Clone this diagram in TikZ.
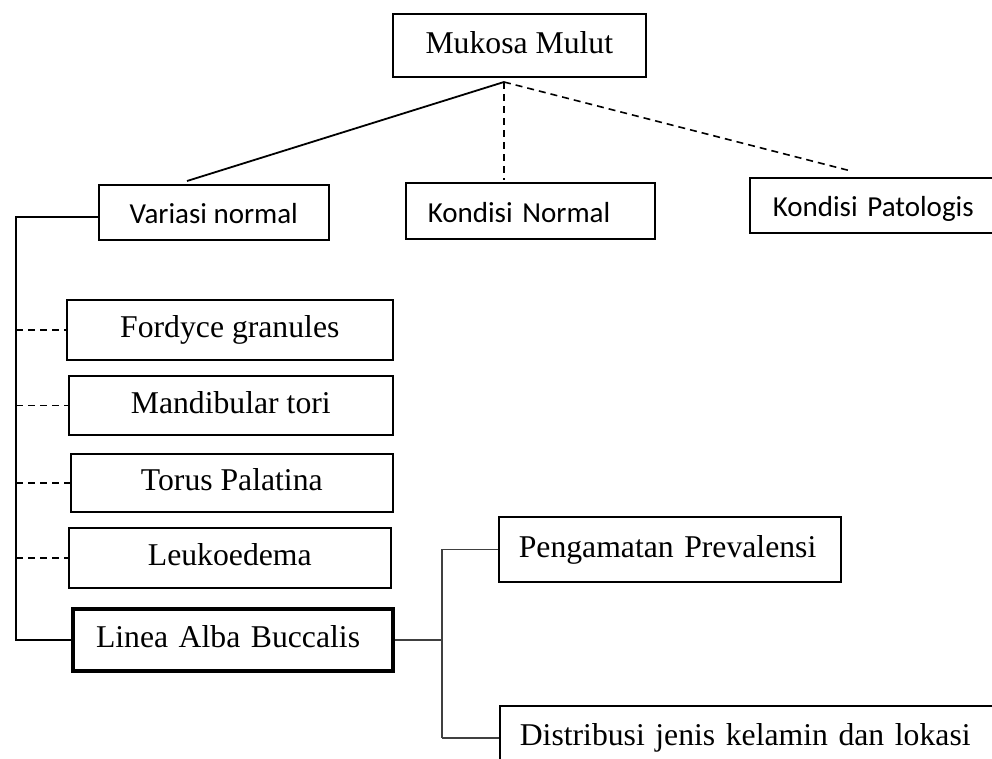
\documentclass[tikz,border=0pt]{standalone}
\usepackage{fontspec}
\setmainfont{Liberation Serif}
\newfontfamily\calibri{Carlito}
\usetikzlibrary{positioning, calc}
\tikzset{
  block/.style={rectangle, draw, line width=1.6pt, inner sep=0pt, anchor=north west,
                text height=22pt, text depth=6.3pt,
                font=\fontsize{31.7}{38}\selectfont},
  sblock/.style={block, text height=29pt, text depth=5.8pt,
                 font=\calibri\fontsize{29}{35}\selectfont},
  line/.style={line width=1.8pt},
  fline/.style={line width=1.4pt, black!75},
  stub/.style={line width=1.6pt, dash pattern=on 7pt off 5pt}
}

\begin{document}
\begin{tikzpicture}[x=1pt, y=-1pt]
    \clip (0,0) rectangle (992,758);

    \node[block, minimum width=253pt, minimum height=63pt] (mukosa) at (392,13) {Mukosa Mulut};

    \node[sblock, minimum width=230pt, minimum height=55pt] (variasi) at (98,184) {Variasi normal};
    \node[sblock, inner xsep=22pt, text width=205pt, align=left, minimum height=56pt] (normal) at (405,182) {Kondisi Normal};
    \node[sblock, inner xsep=23pt, text width=215pt, align=left, minimum height=55pt] (patologis) at (749,177) {Kondisi Patologis};

    \node[block, minimum width=326pt, minimum height=60pt] (fordyce) at (66,299) {Fordyce granules};
    \node[block, minimum width=324pt, minimum height=59pt] (tori) at (68,375) {Mandibular tori};
    \node[block, minimum width=322pt, minimum height=58pt] (torus) at (70,453) {Torus Palatina};
    \node[block, minimum width=322pt, minimum height=60pt] (leuko) at (68,527) {Leukoedema};
    \node[block, line width=4pt, inner xsep=23pt, text width=274pt, align=left, minimum height=62pt] (linea) at (71,607) {Linea Alba Buccalis};

    \node[block, inner xsep=20pt, text width=302pt, align=left, minimum height=65pt] (prevalensi) at (498,516) {Pengamatan Prevalensi};
    \node[block, inner xsep=20pt, text width=470pt, align=left, minimum height=64pt] (distribusi) at (499,705) {Distribusi jenis kelamin dan lokasi};

    % top branches
    \coordinate (hub) at (504,82);
    \coordinate (toleft) at (187,181);
    \coordinate (toright) at (851,171);
    \draw[line] (hub) -- (toleft);
    \draw[stub] (hub) -- ($(hub |- normal.north)+(0,-2)$);
    \draw[stub] (hub) -- (toright);

    % left trunk
    \coordinate (trunk) at (16,217);
    \draw[line] (variasi.west |- trunk) -- (trunk) -- (trunk |- linea.west) -- (linea.west);
    \foreach \n in {fordyce,tori,torus,leuko}
        \draw[stub] (trunk |- \n.west) -- (\n.west);

    % right fork
    \coordinate (fork) at (442,637);
    \draw[fline] (linea.east) -- (fork |- linea.east);
    \draw[fline] (fork |- prevalensi.west) -- (fork |- distribusi.west);
    \draw[fline] (fork |- prevalensi.west) -- (prevalensi.west);
    \draw[fline] (fork |- distribusi.west) -- (distribusi.west);
\end{tikzpicture}
\end{document}
